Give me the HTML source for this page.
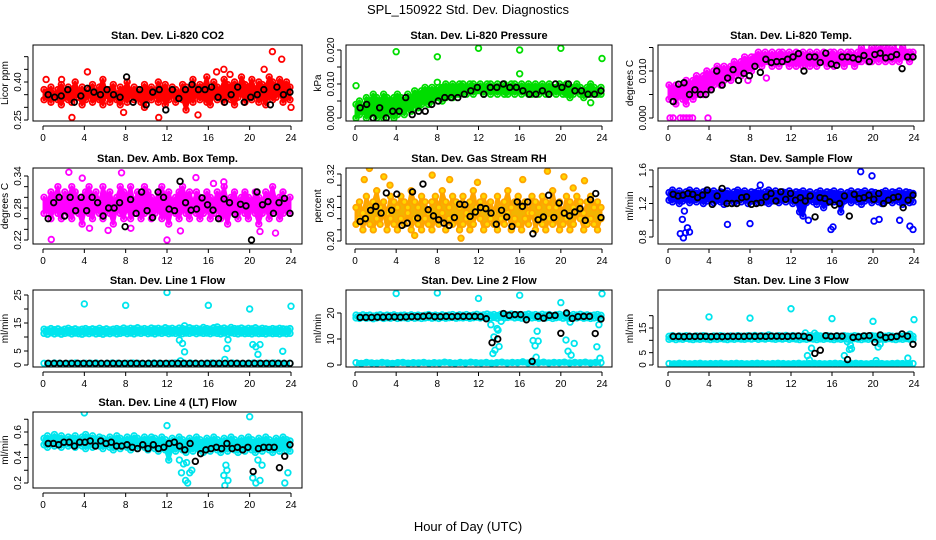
<!DOCTYPE html>
<html><head><meta charset="utf-8"><style>
body{margin:0;background:#fff;}
svg{display:block;font-family:"Liberation Sans",sans-serif;}
.t{font-weight:bold;font-size:11px;}
.tk{font-size:10px;}
</style></head><body>
<svg id="chart" width="936" height="540" viewBox="0 0 936 540">
<text x="468" y="14" text-anchor="middle" font-size="13">SPL_150922  Std. Dev. Diagnostics</text>
<text x="468" y="531" text-anchor="middle" font-size="13">Hour of Day (UTC)</text>
<g id="plots"></g>
</svg>
<script>
// ---------- data ----------
const xTicks=[0,4,8,12,16,20,24];
const co2A=[0.37,0.36,0.38,0.35,0.37,0.39,0.36,0.38,0.37,0.40,0.36,0.38,0.35,0.37,0.39,0.36,0.38,0.41,0.36,0.37,0.39,0.35,0.38,0.37,0.40,0.36,0.38,0.37,0.35,0.39,0.37,0.38,0.36,0.40,0.37,0.39,0.36,0.38,0.37,0.35,0.39,0.38,0.36,0.41,0.37,0.39,0.38,0.42,0.36,0.40,0.38,0.37,0.41,0.39,0.38,0.40,0.37,0.42,0.39,0.38,0.41,0.37,0.40,0.39,0.38,0.42,0.40,0.38,0.41,0.39,0.40,0.38];
const co2B=[0.33,0.34,0.32,0.35,0.33,0.31,0.34,0.33,0.32,0.35,0.34,0.31,0.33,0.35,0.32,0.34,0.33,0.31,0.35,0.32,0.34,0.33,0.31,0.34,0.32,0.35,0.33,0.34,0.32,0.30,0.34,0.33,0.35,0.32,0.34,0.31,0.33,0.35,0.32,0.34,0.33,0.29,0.34,0.32,0.35,0.33,0.34,0.32,0.31,0.35,0.33,0.34,0.32,0.35,0.33,0.31,0.34,0.36,0.32,0.34,0.33,0.35,0.32,0.34,0.31,0.35,0.33,0.34,0.36,0.32,0.34,0.33];
const co2OutH=[4.3,1.8,2.8,11.2,17.5,18.1,21.4,22.2,23.1,24,7.8,15.0,0.3,16.8];
const co2OutV=[0.44,0.41,0.26,0.26,0.45,0.43,0.45,0.52,0.49,0.30,0.28,0.27,0.41,0.44];
const co2Blk=[0.35,0.34,0.345,0.37,0.32,0.345,0.375,0.36,0.35,0.37,0.35,0.34,0.42,0.32,0.37,0.31,0.36,0.37,0.29,0.37,0.335,0.37,0.39,0.37,0.37,0.38,0.34,0.32,0.35,0.38,0.32,0.34,0.35,0.37,0.31,0.38,0.35,0.36];

const prA=[0.004,0.005,0.003,0.006,0.005,0.007,0.006,0.005,0.007,0.006,0.005,0.006,0.007,0.006,0.005,0.007,0.006,0.008,0.007,0.008,0.009,0.008,0.009,0.008,0.009,0.009,0.010,0.009,0.010,0.009,0.010,0.010,0.009,0.010,0.010,0.009,0.010,0.009,0.010,0.010,0.009,0.010,0.009,0.010,0.009,0.010,0.010,0.009,0.010,0.009,0.010,0.009,0.010,0.009,0.010,0.009,0.010,0.009,0.009,0.010,0.009,0.010,0.009,0.009,0.010,0.009,0.008,0.009,0.010,0.009,0.008,0.009];
const prB=[0.000,0.001,0.002,0.000,0.001,0.002,0.000,0.001,0.000,0.002,0.001,0.000,0.001,0.002,0.001,0.003,0.002,0.004,0.003,0.004,0.005,0.004,0.005,0.006,0.006,0.005,0.006,0.007,0.006,0.007,0.007,0.008,0.007,0.008,0.007,0.008,0.008,0.007,0.008,0.007,0.008,0.007,0.008,0.007,0.007,0.008,0.007,0.008,0.007,0.008,0.007,0.007,0.008,0.007,0.008,0.007,0.007,0.008,0.007,0.008,0.007,0.007,0.006,0.007,0.008,0.007,0.006,0.007,0.007,0.008,0.007,0.007];
const prOutH=[0.1,4,8,12,16,16,20,24,8,22.9];
const prOutV=[0.0095,0.0195,0.018,0.0205,0.020,0.013,0.0205,0.0175,0.0105,0.0045];
const prBlk=[0.003,0.004,0.000,0.003,0.000,0.002,0.002,0.006,0.001,0.002,0.002,0.004,0.005,0.006,0.006,0.006,0.007,0.008,0.009,0.007,0.009,0.009,0.010,0.009,0.009,0.008,0.007,0.007,0.008,0.007,0.010,0.009,0.010,0.008,0.008,0.007,0.007,0.008];

const tmA=[0.007,0.006,0.007,0.006,0.007,0.008,0.007,0.008,0.009,0.008,0.009,0.010,0.009,0.010,0.011,0.010,0.011,0.010,0.011,0.012,0.011,0.012,0.013,0.012,0.013,0.013,0.014,0.013,0.014,0.013,0.014,0.013,0.014,0.014,0.013,0.014,0.013,0.014,0.013,0.014,0.013,0.014,0.013,0.014,0.013,0.014,0.013,0.014,0.014,0.013,0.014,0.013,0.014,0.014,0.013,0.014,0.015,0.014,0.014,0.015,0.014,0.015,0.014,0.015,0.014,0.015,0.014,0.014,0.015,0.014,0.014,0.014];
const tmB=[0.004,0.005,0.003,0.005,0.004,0.003,0.005,0.004,0.005,0.006,0.005,0.007,0.006,0.007,0.008,0.007,0.008,0.009,0.008,0.009,0.010,0.009,0.010,0.011,0.010,0.011,0.012,0.011,0.012,0.012,0.011,0.012,0.011,0.012,0.012,0.011,0.012,0.011,0.012,0.011,0.012,0.011,0.012,0.011,0.012,0.012,0.011,0.012,0.011,0.012,0.012,0.011,0.012,0.012,0.011,0.012,0.012,0.013,0.012,0.012,0.013,0.012,0.013,0.012,0.013,0.012,0.013,0.012,0.013,0.013,0.012,0.013];
const tmOutH=[0.2,0.5,1.2,1.5,1.8,2.1,2.4,3.9,9.6,7.8,21,22.5];
const tmOutV=[0,0,0,0,0,0,0,0,0.0085,0.008,0.0152,0.0152];
const tmBlk=[0.0035,0.0072,0.0075,0.005,0.006,0.005,0.005,0.006,0.010,0.007,0.0085,0.0103,0.008,0.0095,0.009,0.011,0.0097,0.0125,0.0118,0.012,0.012,0.0125,0.013,0.0137,0.010,0.013,0.013,0.0118,0.0138,0.0115,0.0112,0.013,0.013,0.0128,0.0125,0.0133,0.012,0.0135,0.0138,0.0128,0.013,0.0135,0.0105,0.013,0.013];

const abA=[0.30,0.29,0.31,0.30,0.32,0.29,0.31,0.30,0.32,0.31,0.29,0.30,0.31,0.32,0.30,0.31,0.29,0.32,0.30,0.31,0.29,0.30,0.32,0.31,0.30,0.32,0.29,0.31,0.30,0.32,0.31,0.30,0.29,0.31,0.32,0.30,0.31,0.29,0.30,0.31,0.32,0.30,0.31,0.29,0.31,0.30,0.29,0.31,0.30,0.29,0.31,0.30,0.32,0.29,0.30,0.31,0.29,0.30,0.31,0.30,0.29,0.31,0.30,0.29,0.31,0.30,0.32,0.29,0.30,0.31,0.29,0.30];
const abB=[0.27,0.28,0.26,0.28,0.27,0.26,0.28,0.27,0.26,0.28,0.27,0.25,0.28,0.27,0.26,0.28,0.27,0.26,0.28,0.27,0.25,0.28,0.27,0.26,0.28,0.26,0.27,0.28,0.26,0.27,0.28,0.26,0.27,0.28,0.26,0.27,0.25,0.28,0.27,0.26,0.28,0.27,0.26,0.28,0.27,0.26,0.27,0.28,0.26,0.27,0.28,0.26,0.27,0.25,0.28,0.27,0.26,0.28,0.27,0.26,0.28,0.27,0.25,0.27,0.28,0.26,0.27,0.28,0.26,0.27,0.28,0.27];
const abOutH=[2.5,3.8,0.8,7.6,12.0,14.8,22.5,21.0,13.3,16.5,17.5,8.5,6.3,4.5];
const abOutV=[0.347,0.336,0.221,0.346,0.220,0.337,0.233,0.236,0.237,0.326,0.329,0.242,0.238,0.242];
const abBlk=[0.26,0.29,0.30,0.265,0.30,0.275,0.30,0.275,0.30,0.29,0.265,0.28,0.28,0.29,0.245,0.296,0.27,0.31,0.275,0.262,0.31,0.30,0.278,0.275,0.33,0.29,0.276,0.278,0.299,0.286,0.276,0.26,0.297,0.29,0.268,0.287,0.284,0.22,0.31,0.286,0.292,0.27,0.29,0.298,0.27];

const rhA=[0.26,0.27,0.25,0.28,0.26,0.27,0.29,0.26,0.27,0.25,0.28,0.27,0.26,0.28,0.27,0.26,0.29,0.27,0.26,0.28,0.27,0.25,0.27,0.28,0.26,0.29,0.27,0.26,0.28,0.27,0.26,0.28,0.25,0.27,0.29,0.26,0.27,0.28,0.26,0.27,0.25,0.28,0.26,0.27,0.29,0.26,0.27,0.28,0.26,0.27,0.25,0.28,0.27,0.26,0.28,0.27,0.26,0.29,0.26,0.27,0.25,0.28,0.27,0.26,0.28,0.27,0.25,0.27,0.28,0.26,0.27,0.26];
const rhB=[0.23,0.24,0.22,0.24,0.23,0.22,0.24,0.23,0.25,0.22,0.24,0.23,0.22,0.24,0.23,0.25,0.22,0.24,0.23,0.22,0.24,0.23,0.22,0.24,0.23,0.25,0.22,0.24,0.23,0.24,0.22,0.23,0.24,0.22,0.23,0.25,0.24,0.22,0.23,0.24,0.23,0.22,0.24,0.23,0.25,0.22,0.24,0.23,0.22,0.24,0.23,0.25,0.22,0.24,0.23,0.22,0.24,0.23,0.24,0.22,0.23,0.24,0.22,0.23,0.25,0.24,0.22,0.23,0.24,0.23,0.22,0.24];
const rhOutH=[1.4,0.9,2.8,7.5,9.2,10.3,16.3,18.7,20.3,22.3,5.8,21.2,11.9,3.4];
const rhOutV=[0.33,0.31,0.315,0.318,0.31,0.205,0.31,0.325,0.315,0.308,0.21,0.295,0.305,0.30];
const rhBlk=[0.235,0.24,0.255,0.262,0.25,0.286,0.255,0.284,0.228,0.232,0.288,0.241,0.302,0.256,0.245,0.238,0.232,0.228,0.242,0.266,0.265,0.244,0.252,0.26,0.258,0.25,0.23,0.255,0.243,0.226,0.27,0.262,0.27,0.213,0.238,0.243,0.282,0.242,0.268,0.25,0.245,0.252,0.258,0.237,0.274,0.285,0.242];

const sfA=[1.33,1.36,1.32,1.35,1.31,1.34,1.36,1.33,1.35,1.32,1.34,1.36,1.33,1.35,1.32,1.34,1.33,1.35,1.31,1.34,1.36,1.33,1.35,1.32,1.34,1.33,1.35,1.32,1.34,1.36,1.33,1.35,1.32,1.34,1.33,1.35,1.32,1.34,1.33,1.35,1.32,1.34,1.31,1.33,1.35,1.32,1.34,1.33,1.35,1.32,1.34,1.31,1.33,1.35,1.32,1.34,1.33,1.35,1.32,1.34,1.33,1.31,1.33,1.35,1.32,1.34,1.33,1.35,1.32,1.34,1.33,1.32];
const sfB=[1.24,1.22,1.26,1.20,1.23,1.25,1.21,1.24,1.22,1.26,1.20,1.23,1.25,1.21,1.24,1.22,1.19,1.23,1.25,1.21,1.24,1.22,1.26,1.20,1.23,1.25,1.21,1.24,1.22,1.20,1.23,1.25,1.21,1.24,1.22,1.26,1.20,1.23,1.10,1.05,1.21,1.24,1.22,1.19,1.23,1.15,1.21,1.24,1.22,1.26,1.10,1.23,1.25,1.21,1.24,1.22,1.19,1.23,1.25,1.21,1.24,1.22,1.20,1.23,1.25,1.21,1.24,1.22,1.19,1.23,1.21,1.22];
const sfOutH=[1.2,1.5,1.7,1.9,2.1,1.4,5.8,8.0,15.9,16.1,18.8,19.9,20.1,20.6,22.6,23.6,23.9,1.6,9.0,13.7];
const sfOutV=[0.84,0.79,0.85,0.91,0.86,1.01,0.95,0.96,0.89,0.92,1.58,1.53,0.99,1.01,1.00,0.93,0.89,1.11,1.42,1.00];
const sfBlk=[1.31,1.29,1.30,1.32,1.31,1.27,1.30,1.36,1.19,1.29,1.38,1.20,1.20,1.20,1.27,1.28,1.19,1.20,1.21,1.28,1.32,1.23,1.34,1.25,1.32,1.24,1.27,1.23,1.29,1.04,1.27,1.26,1.22,1.18,1.20,1.29,1.05,1.31,1.26,1.27,1.30,1.25,1.32,1.20,1.24,1.27,1.28,1.15,1.24,1.30];

const l1A=[12.8,12.5,13.0,12.6,12.9,12.4,12.8,13.1,12.6,12.9,12.5,12.8,13.0,12.6,12.9,12.7,13.1,12.6,12.9,12.5,12.8,13.0,12.7,13.2,12.8,13.1,12.9,13.3,12.8,13.0,12.7,13.2,12.9,13.1,12.8,13.3,12.9,13.1,12.7,13.2,13.0,12.8,13.3,12.9,13.1,12.8,13.4,13.0,12.8,13.3,13.6,12.9,13.2,12.8,13.4,13.0,12.9,13.2,12.8,13.1,12.9,13.3,12.8,13.1,12.9,12.7,13.0,12.8,13.1,12.9,12.8,13.0];
const l1B=[11.3,11.0,11.5,11.1,11.4,11.0,11.3,11.5,11.1,11.4,11.2,11.0,11.4,11.2,11.5,11.1,11.3,11.0,11.4,11.2,11.5,11.1,11.3,11.6,11.2,11.4,11.1,11.5,11.3,11.6,11.2,11.4,11.1,11.5,11.3,11.6,11.2,11.4,11.3,11.5,11.2,11.4,11.3,11.6,11.2,11.5,11.3,11.4,11.2,11.5,11.3,11.1,11.4,11.2,11.5,11.3,11.1,11.4,11.2,11.3,11.1,11.4,11.2,11.3,11.1,11.4,11.2,11.3,11.1,11.4,11.2,11.3];
const l1Low=[0.6,0.5,0.7,0.6,0.5,0.6,0.7,0.5,0.6,0.6,0.7,0.5,0.6,0.7,0.6,0.5,0.6,0.7,0.6,0.5,0.6,0.7,0.6,0.5,0.6,0.7,0.5,0.6,0.7,0.6,0.5,0.6,0.7,0.6,0.5,0.6,0.7,0.6,0.5,0.6,0.7,0.6,0.5,0.6,0.7,0.6,0.5,0.6];
const l1OutH=[4,8,12,16,20,24,13.2,13.5,13.7,13.3,17.6,17.8,17.9,20.3,20.6,20.8,21.0,23.2,13.7];
const l1OutV=[21.8,21.3,25.9,21.3,20.0,21.0,8.9,7.7,4.7,1.5,2.0,5.9,9.0,7.3,6.5,3.8,7.3,4.9,14.0];
const l1Blk=[0.6,0.6,0.6,0.6,0.6,0.6,0.6,0.6,0.6,0.6,0.6,0.6,0.6,0.6,0.6,0.6,0.6,0.6,0.6,0.6,0.6,0.6,0.6,0.6,0.6,0.6,0.6,0.6,0.6,0.6,0.6,0.6,0.6,0.6,0.6,0.6,0.6,0.6,0.6,0.6,0.6,0.6];

const l2A=[19.2,18.9,19.3,19.0,19.2,18.8,19.1,19.3,18.9,19.2,19.0,19.3,18.9,19.1,19.2,18.9,19.3,19.0,19.2,18.9,19.1,19.4,19.0,19.2,18.9,19.3,19.0,19.2,19.4,19.0,19.3,19.1,19.4,19.0,19.2,19.5,19.1,19.3,19.6,19.2,19.4,19.0,19.5,19.1,19.3,19.6,19.2,19.4,19.0,19.3,19.6,19.2,19.4,19.1,19.5,19.2,19.4,19.0,19.3,19.5,19.1,19.3,19.0,19.4,19.2,19.5,19.1,19.3,19.0,19.2,19.4,19.1];
const l2B=[18.1,17.9,18.3,18.0,18.2,17.8,18.1,18.3,17.9,18.2,18.0,18.3,17.9,18.1,18.2,17.9,18.3,18.0,18.2,17.9,18.1,18.3,18.0,18.2,17.9,18.3,18.0,18.2,18.3,18.0,18.2,18.1,18.3,18.0,18.2,18.4,18.1,18.3,18.5,18.1,18.3,18.0,18.4,18.1,18.3,18.5,18.1,18.3,18.0,18.2,18.5,18.1,18.3,18.0,18.4,18.1,18.3,17.9,18.2,18.4,18.0,18.2,17.9,18.3,18.1,18.4,18.0,18.2,17.9,18.1,18.3,18.0];
const l2Low=[0.9,0.6,1.0,0.8,0.7,1.0,0.8,0.6,0.9,1.0,0.7,0.9,0.8,1.0,0.7,0.9,0.8,1.1,0.9,0.7,1.0,0.8,1.1,0.9,0.8,1.0,0.7,0.9,1.1,0.8,1.0,0.9,1.2,0.8,1.0,0.9,1.1,0.8,1.0,0.9,1.1,0.8,1.0,0.9,1.1,0.8,1.0,0.9];
const l2OutH=[4,8,12,16,20,24,13.2,13.4,13.6,13.8,13.9,14.0,13.5,14.2,17.3,17.5,17.7,17.8,17.6,20.5,20.7,20.9,21.0,21.3,23.5,23.8,23.7];
const l2OutV=[27.5,27.7,25.6,26.8,24.0,27.4,15.5,4.4,5.7,14.0,13.4,7.1,10.8,16.8,9.4,7.4,13.0,9.2,3.0,9.6,5.3,16.5,3.8,8.3,7.0,2.6,15.5];
const l2Blk=[18.3,18.3,18.3,18.4,18.4,18.5,18.5,18.4,18.5,18.6,18.6,18.7,18.9,18.6,18.6,18.7,18.6,18.7,18.7,18.7,18.7,18.6,17.8,8.6,10.0,19.8,19.1,19.4,19.4,17.4,1.4,18.7,18.0,19.1,19.1,12.2,20.0,17.9,18.6,18.7,18.7,12.1,17.7];

const l3A=[11.6,11.9,11.5,11.8,11.6,11.9,11.7,11.5,11.8,11.6,11.9,11.7,11.5,11.8,11.6,11.9,11.7,11.5,11.8,11.6,11.9,11.7,11.6,11.9,11.7,12.0,11.6,11.9,11.7,12.2,11.8,11.6,11.9,11.7,12.0,11.6,11.9,11.7,11.5,11.8,11.6,11.9,11.7,11.5,11.8,11.6,11.9,11.7,11.5,11.8,11.6,11.9,11.7,11.6,11.9,11.7,11.5,11.8,11.6,11.9,11.7,11.5,11.8,11.6,11.9,11.7,11.5,11.8,11.6,11.9,11.7,11.6];
const l3B=[10.4,10.7,10.3,10.6,10.4,10.8,10.5,10.3,10.6,10.4,10.7,10.5,10.3,10.6,10.4,10.7,10.5,10.3,10.6,10.4,10.7,10.5,10.4,10.7,10.5,10.8,10.4,10.7,10.5,10.8,10.6,10.4,10.7,10.5,10.8,10.4,10.7,10.5,10.3,10.6,10.4,10.7,10.5,10.3,10.6,10.4,10.7,10.5,10.3,10.6,10.4,10.7,10.5,10.4,10.7,10.5,10.3,10.6,10.4,10.7,10.5,10.3,10.6,10.4,10.7,10.5,10.3,10.6,10.4,10.7,10.5,10.4];
const l3Low=[0.6,0.5,0.7,0.6,0.5,0.6,0.7,0.5,0.6,0.6,0.7,0.5,0.6,0.7,0.6,0.5,0.6,0.7,0.6,0.5,0.6,0.7,0.6,0.5,0.6,0.7,0.5,0.6,0.7,0.6,0.5,0.6,0.7,0.6,0.5,0.6,0.7,0.6,0.5,0.6,0.7,0.6,0.5,0.6,0.7,0.6,0.5,0.6];
const l3OutH=[4,8,12,16,20,24,13.4,13.6,13.8,14.0,14.3,17.2,17.5,17.7,17.8,17.9,20.3,20.5,20.7,23.4,14.5,23.6];
const l3OutV=[19.5,19.0,22.8,18.8,17.7,18.4,13.0,3.8,2.0,6.8,12.9,3.8,9.4,6.3,8.0,6.6,1.8,7.3,8.5,2.8,12.1,12.5];
const l3Blk=[11.6,11.6,11.5,11.6,11.6,11.6,11.6,11.5,11.6,11.5,11.6,11.6,11.6,11.6,11.7,11.6,11.7,11.6,11.7,11.7,11.6,11.6,11.7,11.8,11.6,11.1,4.7,6.0,11.9,11.6,11.8,11.7,2.2,11.2,11.4,11.8,11.9,9.2,12.2,11.1,11.3,11.6,12.6,11.7,8.4];

const l4A=[0.55,0.57,0.54,0.58,0.55,0.57,0.54,0.56,0.55,0.57,0.54,0.56,0.58,0.55,0.57,0.54,0.56,0.55,0.53,0.56,0.54,0.57,0.55,0.53,0.56,0.54,0.57,0.55,0.53,0.56,0.54,0.56,0.55,0.53,0.56,0.54,0.50,0.55,0.53,0.56,0.54,0.52,0.55,0.53,0.56,0.54,0.52,0.55,0.53,0.56,0.54,0.52,0.55,0.53,0.56,0.54,0.52,0.55,0.53,0.56,0.54,0.52,0.55,0.53,0.56,0.54,0.52,0.55,0.53,0.56,0.54,0.53];
const l4B=[0.50,0.48,0.51,0.49,0.50,0.48,0.51,0.49,0.50,0.48,0.51,0.49,0.47,0.50,0.48,0.51,0.49,0.47,0.50,0.48,0.46,0.49,0.47,0.50,0.48,0.46,0.49,0.47,0.50,0.48,0.46,0.49,0.47,0.45,0.48,0.46,0.38,0.47,0.45,0.48,0.46,0.44,0.47,0.45,0.48,0.46,0.44,0.47,0.45,0.48,0.46,0.44,0.47,0.45,0.48,0.46,0.44,0.47,0.45,0.48,0.46,0.44,0.47,0.45,0.48,0.46,0.44,0.47,0.45,0.48,0.46,0.45];
const l4OutH=[4,12,20,13.4,13.6,13.8,14.0,14.2,14.4,13.9,17.5,17.7,17.8,17.9,17.6,20.3,20.6,20.8,21.0,21.2,23.4,23.7,13.2];
const l4OutV=[0.75,0.65,0.72,0.28,0.35,0.22,0.20,0.28,0.30,0.36,0.26,0.34,0.30,0.22,0.18,0.24,0.20,0.38,0.22,0.34,0.20,0.28,0.38];
const l4Blk=[0.51,0.51,0.50,0.52,0.52,0.49,0.52,0.52,0.53,0.49,0.53,0.51,0.52,0.49,0.49,0.50,0.48,0.47,0.50,0.47,0.50,0.47,0.48,0.51,0.52,0.49,0.46,0.51,0.37,0.43,0.46,0.47,0.48,0.47,0.51,0.47,0.48,0.46,0.48,0.29,0.47,0.48,0.48,0.48,0.32,0.41,0.50];

// ---------- layout ----------
const NS='http://www.w3.org/2000/svg';
const root=document.getElementById('plots');
function mk(tag,attrs,parent){const e=document.createElementNS(NS,tag);for(const k in attrs)e.setAttribute(k,attrs[k]);(parent||root).appendChild(e);return e;}
const cols=[{l:33,r:302,h0:43,h24:291},{l:346,r:612,h0:355,h24:602},{l:658,r:924,h0:668,h24:914}];
const rows=[{t:45,b:121},{t:168,b:244},{t:290,b:367},{t:412,b:488}];

function panel(cfg){
  const c=cols[cfg.col],r=rows[cfg.row];
  const g=mk('g',{});
  
  
  const X=h=>c.h0+h*(c.h24-c.h0)/24;
  const Y=v=>cfg.p0+(v-cfg.v0)*(cfg.p1-cfg.p0)/(cfg.v1-cfg.v0);
  const t=mk('text',{x:(c.l+c.r)/2,y:r.t-6,'text-anchor':'middle',class:'t'},g);t.textContent=cfg.title;
  
  
  const xa=mk('g',{},g);
  
  
  mk('line',{x1:X(0),x2:X(24),y1:r.b+5,y2:r.b+5,stroke:'#000'},xa);
  xTicks.forEach(h=>{mk('line',{x1:X(h),x2:X(h),y1:r.b+5,y2:r.b+9,stroke:'#000'},xa);
    const tt=mk('text',{x:X(h),y:r.b+20,'text-anchor':'middle',class:'tk'},xa);tt.textContent=h;});
  const ya=mk('g',{},g);
  
  
  const tv=cfg.ticks;
  mk('line',{x1:c.l-5,x2:c.l-5,y1:Y(tv[0]),y2:Y(tv[tv.length-1]),stroke:'#000'},ya);
  tv.forEach((v,i)=>{mk('line',{x1:c.l-9,x2:c.l-5,y1:Y(v),y2:Y(v),stroke:'#000'},ya);
    if(cfg.labels[i]){const tt=mk('text',{transform:`translate(${c.l-12},${Y(v)}) rotate(-90)`,'text-anchor':'middle',class:'tk'},ya);tt.textContent=cfg.labels[i];}});
  const yl=mk('text',{transform:`translate(${c.l-25},${(r.t+r.b)/2}) rotate(-90)`,'text-anchor':'middle',class:'tk'},g);yl.textContent=cfg.ylab;
  
  
  const cid='clip'+cfg.name;
  const cp=mk('clipPath',{id:cid},g);mk('rect',{x:c.l,y:r.t,width:c.r-c.l,height:r.b-r.t},cp);
  const dg=mk('g',{'clip-path':`url(#${cid})`},g);
  const fill=cfg.fill||'none';
  const hx=(i,n,h0,h1)=>h0+i*(h1-h0)/(n-1);
  // dense band between upper & lower main series
  const A=cfg.main[0],B=cfg.main[1];
  let pts=A.map((v,i)=>X(hx(i,A.length,0.1,23.9))+','+Y(v));
  pts=pts.concat(B.map((v,i)=>X(hx(i,B.length,0.1,23.9))+','+Y(v)).reverse());
  const band=mk('polygon',{points:pts.join(' '),fill:cfg.bandFill||cfg.color,stroke:cfg.color,'stroke-width':3,'stroke-linejoin':'round'},dg);
  
  
  function dot(h,v,col,f,nm){const e=mk('circle',{cx:X(h),cy:Y(v),r:2.8,fill:f,stroke:col,'stroke-width':1.8},dg);
    
    }
  function series(vals,h0,h1,col,f,nm){const n=vals.length;vals.forEach((v,i)=>dot(hx(i,n,h0,h1),v,col,f,nm));}
  cfg.main.forEach(a=>series(a,0.1,23.9,cfg.color,fill,'point'));
  if(cfg.low){
    const lp=cfg.low.map((v,i)=>X(hx(i,cfg.low.length,0.1,23.9))+','+Y(v)).join(' ');
    const ll=mk('polyline',{points:lp,fill:'none',stroke:cfg.color,'stroke-width':6,'stroke-linejoin':'round'},dg);
    
    
    series(cfg.low,0.1,23.9,cfg.color,fill,'point');
  }
  cfg.outH.forEach((h,i)=>dot(h,cfg.outV[i],cfg.color,fill,'outlier-point'));
  series(cfg.blk,0.5,23.9,'#000','none','hourly-point');
  mk('rect',{x:c.l,y:r.t,width:c.r-c.l,height:r.b-r.t,fill:'none',stroke:'#000'},g);
}

panel({name:'co2-panel',col:0,row:0,title:'Stan. Dev. Li-820 CO2',ylab:'Licor ppm',v0:0.25,p0:120,v1:0.40,p1:82,
  ticks:[0.25,0.30,0.35,0.40,0.45,0.50],labels:['0.25','','','0.40','',''],color:'#ff0000',main:[co2A,co2B],outH:co2OutH,outV:co2OutV,blk:co2Blk});
panel({name:'pressure-panel',col:1,row:0,title:'Stan. Dev. Li-820 Pressure',ylab:'kPa',v0:0,p0:118,v1:0.02,p1:50,
  ticks:[0,0.005,0.01,0.015,0.02],labels:['0.000','','0.010','','0.020'],color:'#00dd00',main:[prA,prB],outH:prOutH,outV:prOutV,blk:prBlk});
panel({name:'temp-panel',col:2,row:0,title:'Stan. Dev. Li-820 Temp.',ylab:'degrees C',v0:0,p0:118,v1:0.01,p1:71,
  ticks:[0,0.005,0.01,0.015],labels:['0.000','','0.010',''],color:'#ff00ff',main:[tmA,tmB],outH:tmOutH,outV:tmOutV,blk:tmBlk});
panel({name:'amb-box-panel',col:0,row:1,title:'Stan. Dev. Amb. Box Temp.',ylab:'degrees C',v0:0.22,p0:240,v1:0.34,p1:176,
  ticks:[0.22,0.24,0.26,0.28,0.30,0.32,0.34],labels:['0.22','','','0.28','','','0.34'],color:'#ff00ff',main:[abA,abB],outH:abOutH,outV:abOutV,blk:abBlk});
panel({name:'rh-panel',col:1,row:1,title:'Stan. Dev. Gas Stream RH',ylab:'percent',v0:0.20,p0:241,v1:0.32,p1:174,
  ticks:[0.20,0.22,0.24,0.26,0.28,0.30,0.32],labels:['0.20','','','0.26','','','0.32'],color:'#ffa500',fill:'#ffd700',bandFill:'#f2b400',main:[rhA,rhB],outH:rhOutH,outV:rhOutV,blk:rhBlk});
panel({name:'sample-flow-panel',col:2,row:1,title:'Stan. Dev. Sample Flow',ylab:'ml/min',v0:0.8,p0:237,v1:1.6,p1:170,
  ticks:[0.8,1.0,1.2,1.4,1.6],labels:['0.8','','1.2','','1.6'],color:'#0000ff',main:[sfA,sfB],outH:sfOutH,outV:sfOutV,blk:sfBlk});
panel({name:'line1-panel',col:0,row:2,title:'Stan. Dev. Line 1 Flow',ylab:'ml/min',v0:0,p0:365,v1:25,p1:295,
  ticks:[0,5,10,15,20,25],labels:['0','5','','15','','25'],color:'#00e5ee',main:[l1A,l1B],low:l1Low,outH:l1OutH,outV:l1OutV,blk:l1Blk});
panel({name:'line2-panel',col:1,row:2,title:'Stan. Dev. Line 2 Flow',ylab:'ml/min',v0:0,p0:365,v1:20,p1:313,
  ticks:[0,10,20],labels:['0','10','20'],color:'#00e5ee',main:[l2A,l2B],low:l2Low,outH:l2OutH,outV:l2OutV,blk:l2Blk});
panel({name:'line3-panel',col:2,row:2,title:'Stan. Dev. Line 3 Flow',ylab:'ml/min',v0:0,p0:365,v1:15,p1:328,
  ticks:[0,5,10,15,20],labels:['0','5','','15',''],color:'#00e5ee',main:[l3A,l3B],low:l3Low,outH:l3OutH,outV:l3OutV,blk:l3Blk});
panel({name:'line4-panel',col:0,row:3,title:'Stan. Dev. Line 4 (LT) Flow',ylab:'ml/min',v0:0.2,p0:483,v1:0.6,p1:432,
  ticks:[0.2,0.3,0.4,0.5,0.6,0.7],labels:['0.2','','0.4','','0.6',''],color:'#00e5ee',main:[l4A,l4B],outH:l4OutH,outV:l4OutV,blk:l4Blk});
</script>
</body></html>
